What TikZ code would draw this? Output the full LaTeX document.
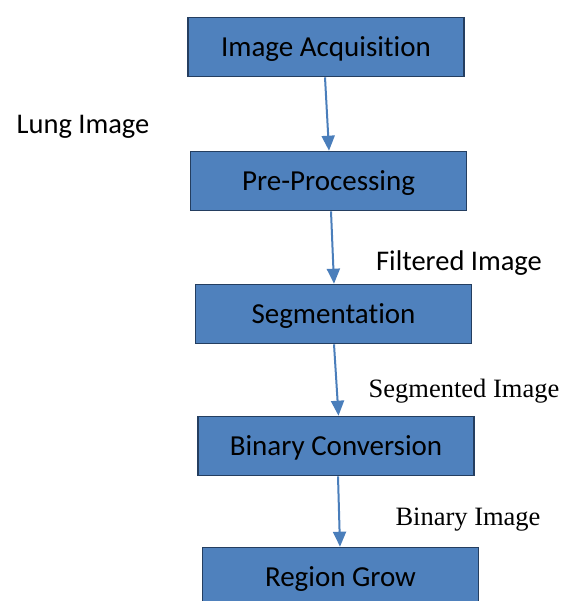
\documentclass[tikz,border=0pt]{standalone}
\usepackage{fontspec}
\setmainfont[RawFeature=-liga]{Carlito}
\newfontfamily\timesfont{Liberation Serif}
\usetikzlibrary{arrows.meta}
\definecolor{boxfill}{RGB}{79,129,189}
\definecolor{boxline}{RGB}{36,62,96}
\definecolor{arrcol}{RGB}{74,126,187}
\begin{document}
\begin{tikzpicture}[x=1pt,y=-1pt,
  stepbox/.style={draw=boxline, line width=1.6pt, fill=boxfill, minimum width=276pt, minimum height=59pt, inner sep=0pt, text height=25pt, text depth=6pt, font=\fontsize{29}{33}\selectfont, text=black},
  arr/.style={draw=arrcol, line width=2pt, -{Triangle[width=13pt,length=15pt]}},
  lab/.style={font=\fontsize{28.5}{32}\selectfont, inner sep=0pt},
  slab/.style={font=\timesfont\fontsize{26.5}{30}\selectfont, inner sep=0pt}]
\useasboundingbox (0,0) rectangle (568,601);
\clip (0,0) rectangle (568,601);
\fill[white] (0,0) rectangle (568,601);
\node[stepbox] (b1) at (326,47) {Image Acquisition};
\node[stepbox] (b2) at (328.5,181) {Pre-Processing};
\node[stepbox] (b3) at (333.5,314) {Segmentation};
\node[stepbox] (b4) at (336,446) {Binary Conversion};
\node[stepbox] (b5) at (340.5,577) {Region Grow};
\node[lab] (l1) at (83,126.5) {Lung Image};
\node[lab] (l2) at (459,263) {Filtered Image};
\node[slab] (l3) at (464,391) {Segmented Image};
\node[slab] (l4) at (468,520) {Binary Image};
\draw[arr] ([xshift=-1pt]b1.south) -- ([xshift=0.5pt]b2.north);
\draw[arr] ([xshift=2.5pt]b2.south) -- ([xshift=0.5pt]b3.north);
\draw[arr] ([xshift=0.5pt]b3.south) -- ([xshift=2.5pt]b4.north);
\draw[arr] ([xshift=2pt]b4.south) -- ([xshift=-0.5pt]b5.north);
\end{tikzpicture}
\end{document}
